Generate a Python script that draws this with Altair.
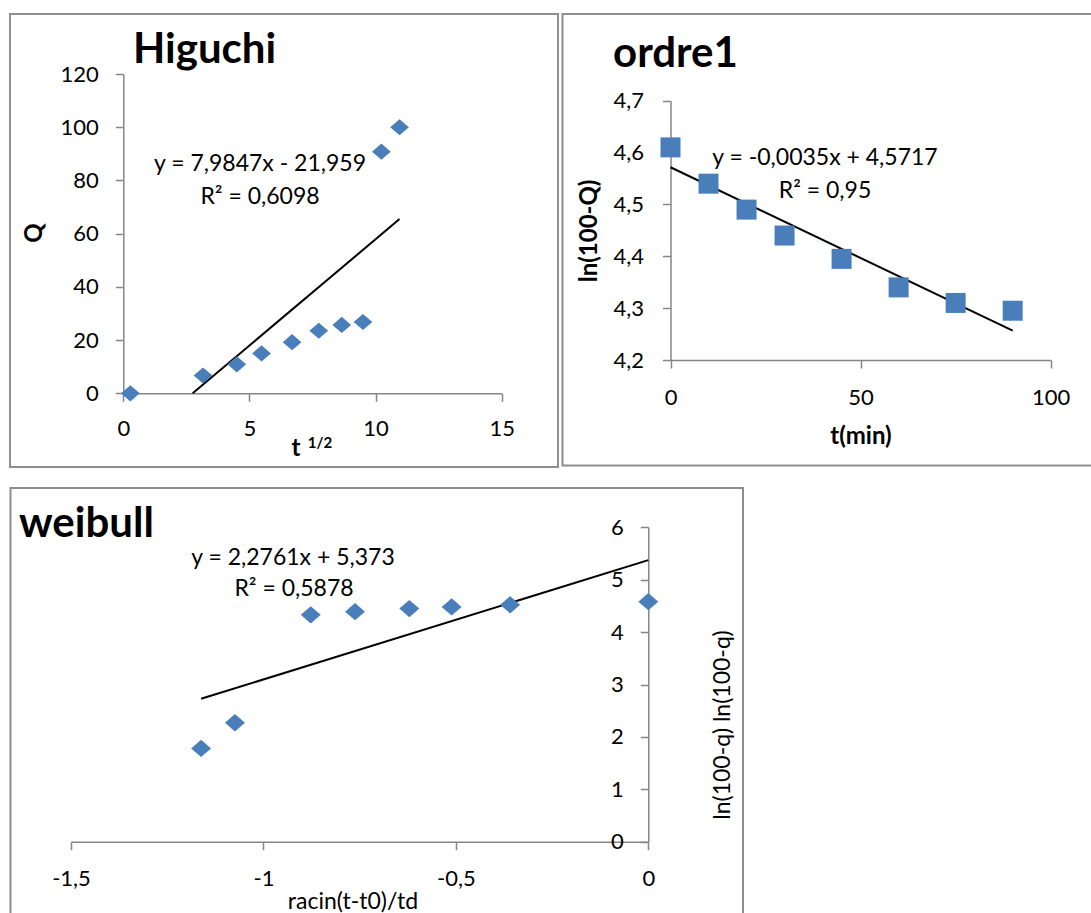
import altair as alt
import pandas as pd

W, H = 1091, 913
BLUE = "#4a7ebb"
AXIS_GREY = "#868686"
FRAME_GREY = "#8e8e8e"
FONT = "Lato"

# Higuchi: released amount Q against the square root of time
hig_x = [0.28, 3.16, 4.50, 5.48, 6.69, 7.75, 8.66, 9.50, 10.23, 10.95]
hig_q = [0, 6.7, 10.9, 15.0, 19.2, 23.5, 25.7, 26.8, 90.8, 100]
hig_slope, hig_icpt, hig_r2 = 7.9847, -21.959, 0.6098

# First order: ln(100-Q) against time in minutes
ord_t = [0, 10, 20, 30, 45, 60, 75, 90]
ord_ln = [4.61, 4.54, 4.49, 4.44, 4.395, 4.34, 4.31, 4.295]
ord_slope, ord_icpt, ord_r2 = -0.0035, 4.5717, 0.95

# Weibull linearisation
wei_x = [-1.162, -1.074, -0.877, -0.762, -0.621, -0.511, -0.359, 0]
wei_y = [1.78, 2.27, 4.33, 4.39, 4.45, 4.48, 4.52, 4.58]
wei_slope, wei_icpt, wei_r2 = 2.2761, 5.373, 0.5878

# Axis ticks
hig_xticks, hig_yticks = [0, 5, 10, 15], [0, 20, 40, 60, 80, 100, 120]
ord_xticks, ord_yticks = [0, 50, 100], [4.2, 4.3, 4.4, 4.5, 4.6, 4.7]
wei_xticks, wei_yticks = [-1.5, -1, -0.5, 0], [0, 1, 2, 3, 4, 5, 6]

DIAMOND = "M-1.1,0L0,-0.95L1.1,0L0,0.95Z"


def num(v):
    return str(v).replace(".", ",")


def equation(slope, icpt):
    sign = "+" if icpt >= 0 else "-"
    return f"y = {num(slope)}x {sign} {num(abs(icpt))}"


def trend(xs, slope, icpt, ymin):
    x0 = min(xs)
    # the fitted line is cut where it leaves the bottom of the value axis
    if slope * x0 + icpt < ymin:
        x0 = (ymin - icpt) / slope
    x1 = max(xs)
    return pd.DataFrame({"x": [x0, x1], "y": [slope * x0 + icpt, slope * x1 + icpt]})


def panel(xs, ys, line_df, xdom, ydom, xrange, yrange, xticks, yticks,
          shape, size, xpad, ypad, yaxis_at, xlabel=None, ylabel=None):
    xscale = alt.Scale(domain=xdom, range=xrange, nice=False, zero=False)
    yscale = alt.Scale(domain=ydom, range=yrange, nice=False, zero=False)
    common = dict(
        grid=False, title=None, domainColor=AXIS_GREY, tickColor=AXIS_GREY,
        domainWidth=1.5, tickWidth=1.5, tickSize=8, labelFont=FONT,
        labelFontSize=22, labelColor="black", labelOverlap=False,
        labelFlush=False, labelBound=False,
    )
    xkw = dict(common, orient="bottom", offset=yrange[0] - H, values=xticks,
               labelPadding=xpad)
    ykw = dict(common, orient="left", offset=-yaxis_at, values=yticks,
               labelPadding=ypad)
    if xlabel:
        xkw["labelExpr"] = xlabel
    if ylabel:
        ykw["labelExpr"] = ylabel
    xaxis, yaxis = alt.Axis(**xkw), alt.Axis(**ykw)
    pts_df = pd.DataFrame({"x": xs, "y": ys})
    pts = alt.Chart(pts_df).mark_point(
        shape=shape, size=size, filled=True, opacity=1, color=BLUE
    ).encode(
        x=alt.X("x:Q", scale=xscale, axis=xaxis),
        y=alt.Y("y:Q", scale=yscale, axis=yaxis),
    )
    line = alt.Chart(line_df).mark_line(color="black", strokeWidth=2).encode(
        x=alt.X("x:Q", scale=xscale, axis=xaxis),
        y=alt.Y("y:Q", scale=yscale, axis=yaxis),
    )
    return alt.layer(line, pts)


comma1 = "replace(format(datum.value, '.1f'), '.', ',')"
comma_signed = "replace(replace(format(datum.value, '.1~f'), '.', ','), '\u2212', '-')"

p_hig = panel(hig_x, hig_q, trend(hig_x, hig_slope, hig_icpt, 0),
              [0, 15], [0, 120], [123.3, 501.7], [393.3, 74.0],
              hig_xticks, hig_yticks, DIAMOND, 290, 17, 17, 123.3)
p_ord = panel(ord_t, ord_ln, trend(ord_t, ord_slope, ord_icpt, 4.2),
              [0, 100], [4.2, 4.7], [670.5, 1050.7], [360.0, 100.7],
              ord_xticks, ord_yticks, "square", 400, 19, 19, 670.5,
              ylabel=comma1)
# the value axis of the Weibull plot crosses at x = 0, on the right end
p_wei = panel(wei_x, wei_y, trend(wei_x, wei_slope, wei_icpt, 0),
              [-1.5, 0], [0, 6], [71.0, 648.3], [841.7, 527.3],
              wei_xticks, wei_yticks, DIAMOND, 330, 19, 17, 648.3,
              xlabel=comma_signed)

# Panel frames
frames = []
for x0, x1, y0, y1 in [(10, 558, 14, 467), (562.5, 1096, 14, 465.5), (10.5, 743, 488, 920)]:
    frames.append(
        alt.Chart().mark_rect(fill=None, stroke=FRAME_GREY, strokeWidth=2).encode(
            x=alt.value(x0), x2=alt.value(x1), y=alt.value(y0), y2=alt.value(y1)
        )
    )


def label(text, x, y, size=23, weight="normal", angle=0, align="center",
          baseline="middle"):
    return alt.Chart().mark_text(
        text=text, font=FONT, fontSize=size, fontWeight=weight, angle=angle,
        align=align, baseline=baseline, color="black",
    ).encode(x=alt.value(x), y=alt.value(y))


texts = [
    label("Higuchi", 133, 63, 42, "bold", align="left", baseline="alphabetic"),
    label("ordre1", 613, 67, 42, "bold", align="left", baseline="alphabetic"),
    label("weibull", 19, 537, 42, "bold", align="left", baseline="alphabetic"),
    label(equation(hig_slope, hig_icpt), 260, 164),
    label(f"R\u00b2 = {num(hig_r2)}", 260, 197),
    label(equation(ord_slope, ord_icpt), 825, 158),
    label(f"R\u00b2 = {num(ord_r2)}", 825, 191),
    label(equation(wei_slope, wei_icpt), 293, 558),
    label(f"R\u00b2 = {num(wei_r2)}", 294, 589),
    label("Q", 35, 233, 24, "bold", angle=270),
    label("t", 296, 449, 24, "bold"),
    label("1/2", 320, 443, 15, "bold"),
    label("ln(100-Q)", 590, 231, 24, "bold", angle=270),
    label("t(min)", 861, 437, 24, "bold"),
    label("racin(t-t0)/td", 353, 902, 23),
    label("ln(100-q) ln(100-q)", 723, 725, 23, angle=270),
]

chart = alt.layer(
    *frames, p_hig, p_ord, p_wei, *texts
).resolve_scale(
    x="independent", y="independent"
).resolve_axis(
    x="independent", y="independent"
).properties(
    width=W, height=H, padding=0,
    autosize=alt.AutoSizeParams(type="none"),
    background="white",
).configure_view(stroke=None)

chart.save("out.html", embed_options={"renderer": "svg", "actions": False})
